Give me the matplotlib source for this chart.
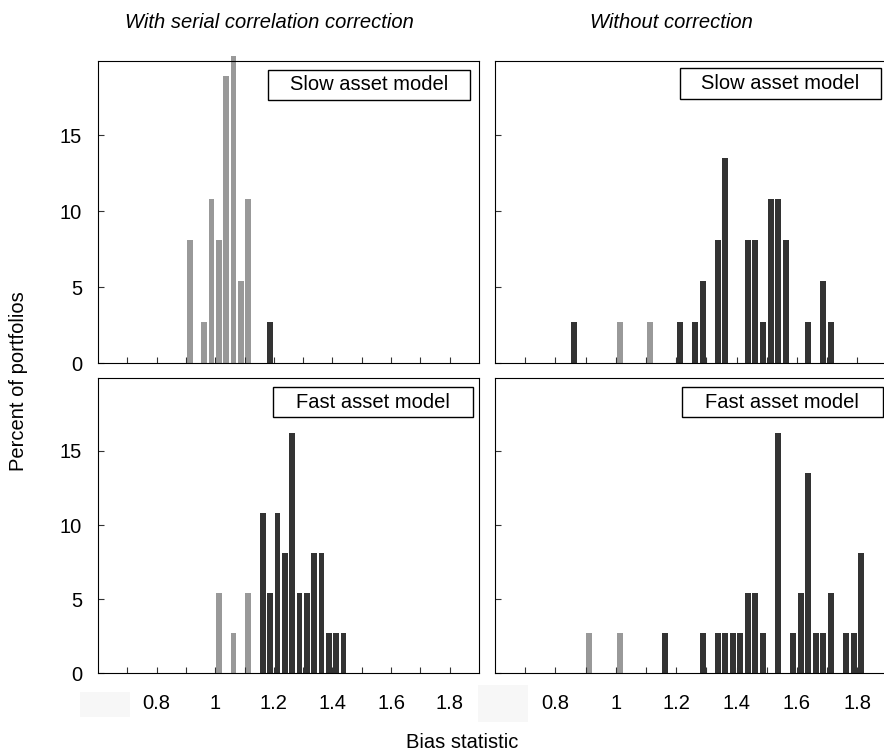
import numpy as np
import matplotlib
matplotlib.use('Agg')
import matplotlib.pyplot as plt
from matplotlib.patches import Rectangle

plt.rcParams['font.family'] = ['Liberation Sans', 'DejaVu Sans']

# bin centres (bias statistic) and percent of portfolios, per panel
tl_grey_x = [0.9125, 0.9625, 0.9875, 1.0125, 1.0375, 1.0625, 1.0875, 1.1125]
tl_grey_y = [8.1, 2.7, 10.8, 8.1, 18.9, 20.2, 5.4, 10.8]
tl_dark_x = [1.1875]
tl_dark_y = [2.7]

tr_grey_x = [1.0125, 1.1125]
tr_grey_y = [2.7, 2.7]
tr_dark_x = [0.8625, 1.2125, 1.2625, 1.2875, 1.3375, 1.3625, 1.4375, 1.4625,
             1.4875, 1.5125, 1.5375, 1.5625, 1.6375, 1.6875, 1.7125]
tr_dark_y = [2.7, 2.7, 2.7, 5.4, 8.1, 13.5, 8.1, 8.1,
             2.7, 10.8, 10.8, 8.1, 2.7, 5.4, 2.7]

bl_grey_x = [1.0125, 1.0625, 1.1125]
bl_grey_y = [5.4, 2.7, 5.4]
bl_dark_x = [1.1625, 1.1875, 1.2125, 1.2375, 1.2625, 1.2875, 1.3125, 1.3375,
             1.3625, 1.3875, 1.4125, 1.4375]
bl_dark_y = [10.8, 5.4, 10.8, 8.1, 16.2, 5.4, 5.4, 8.1,
             8.1, 2.7, 2.7, 2.7]

br_grey_x = [0.9125, 1.0125]
br_grey_y = [2.7, 2.7]
br_dark_x = [1.1625, 1.2875, 1.3375, 1.3625, 1.3875, 1.4125, 1.4375, 1.4625,
             1.4875, 1.5375, 1.5875, 1.6125, 1.6375, 1.6625, 1.6875, 1.7125,
             1.7625, 1.7875, 1.8125]
br_dark_y = [2.7, 2.7, 2.7, 2.7, 2.7, 2.7, 5.4, 5.4,
             2.7, 16.2, 2.7, 5.4, 13.5, 2.7, 2.7, 5.4,
             2.7, 2.7, 8.1]

x_ticks = [0.7, 0.8, 0.9, 1.0, 1.1, 1.2, 1.3, 1.4, 1.5, 1.6, 1.7, 1.8]
x_labels = ['', '0.8', '', '1', '', '1.2', '', '1.4', '', '1.6', '', '1.8']
y_ticks = [0, 5, 10, 15]
y_labels = ['0', '5', '10', '15']

titles = ['With serial correlation correction', 'Without correction']
models = ['Slow asset model', 'Fast asset model']

GREY = '#999999'
DARK = '#333333'
FS = 14.5
W, H = 884, 751

fig = plt.figure(figsize=(W / 100, H / 100), dpi=100)


def px_axes(x0, x1, y0, y1):
    return fig.add_axes([x0 / W, 1 - y1 / H, (x1 - x0) / W, (y1 - y0) / H])


def px_box(x0, x1, y0, y1, text):
    fig.add_artist(Rectangle((x0 / W, 1 - y1 / H), (x1 - x0) / W, (y1 - y0) / H,
                             transform=fig.transFigure, facecolor='white',
                             edgecolor='black', linewidth=1.0, zorder=5))
    fig.text((x0 + x1) / 2 / W, 1 - (y0 + y1) / 2 / H, text, fontsize=FS,
             ha='center', va='center', zorder=6)


panels = [
    (px_axes(98, 479, 61, 363.3), tl_grey_x, tl_grey_y, tl_dark_x, tl_dark_y, True, False),
    (px_axes(495, 887.6, 61, 363.3), tr_grey_x, tr_grey_y, tr_dark_x, tr_dark_y, False, False),
    (px_axes(98, 479, 378.3, 673.3), bl_grey_x, bl_grey_y, bl_dark_x, bl_dark_y, True, True),
    (px_axes(495, 887.6, 378.3, 673.3), br_grey_x, br_grey_y, br_dark_x, br_dark_y, False, True),
]

for ax, gx, gy, dx, dy, show_y, show_x in panels:
    ax.bar(gx, gy, width=0.02, color=GREY, clip_on=False)
    ax.bar(dx, dy, width=0.02, color=DARK, clip_on=False)
    ax.set_xlim(0.6, 1.9)
    ax.set_ylim(0, 19.9)
    ax.set_xticks(x_ticks)
    ax.set_xticklabels(x_labels if show_x else [''] * len(x_ticks))
    ax.set_yticks(y_ticks)
    ax.set_yticklabels(y_labels if show_y else [''] * len(y_ticks))
    ax.tick_params(direction='in', length=4.3, width=0.8, color='#333333',
                   labelsize=FS)
    ax.tick_params(axis='x', pad=15)
    ax.tick_params(axis='y', pad=11.5)
    for sp in ax.spines.values():
        sp.set_linewidth(0.8)

# model labels
px_box(268, 470, 70, 100, models[0])
px_box(680, 881, 68, 99, models[0])
px_box(272.7, 473.3, 386.7, 417.3, models[1])
px_box(681.7, 882.7, 387, 417, models[1])

# faint boxes over the hidden 0.6 labels
for x0, x1, y0, y1 in [(80, 130, 692, 717), (478, 528, 685, 722)]:
    fig.add_artist(Rectangle((x0 / W, 1 - y1 / H), (x1 - x0) / W, (y1 - y0) / H,
                             transform=fig.transFigure, facecolor='#f7f7f7',
                             edgecolor='none', zorder=4))

fig.text(125 / W, 1 - 28 / H, titles[0], fontsize=FS, style='italic',
         ha='left', va='baseline')
fig.text(590 / W, 1 - 28 / H, titles[1], fontsize=FS, style='italic',
         ha='left', va='baseline')
fig.text(19 / W, 1 - 381 / H, 'Percent of portfolios', fontsize=FS,
         rotation=90, ha='center', va='center')
fig.text(462 / W, 1 - 743 / H, 'Bias statistic', fontsize=FS,
         ha='center', va='center')

fig.savefig('out.png', dpi=100)
